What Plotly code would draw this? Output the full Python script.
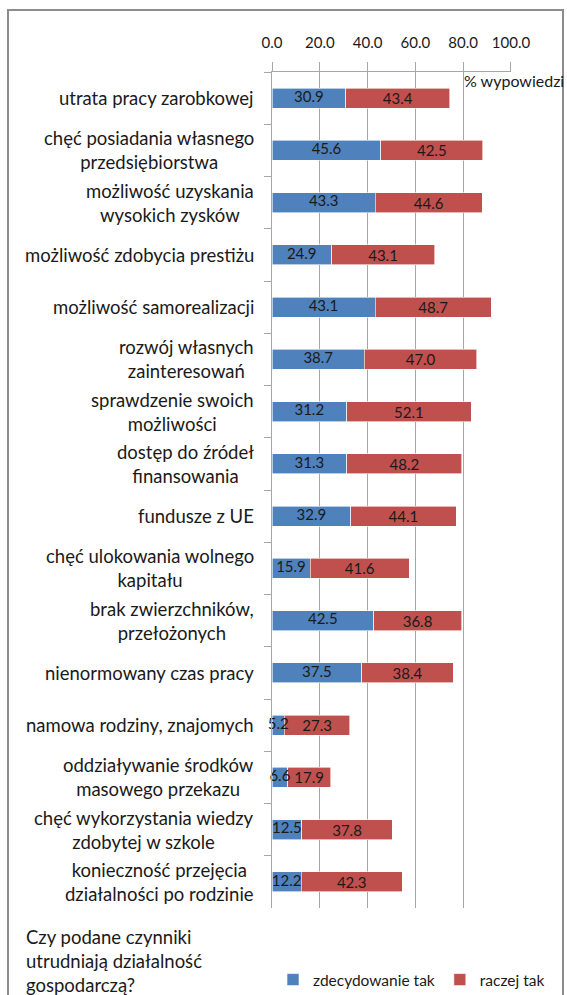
import plotly.graph_objects as go

categories = [
    "utrata pracy zarobkowej",
    "chęć posiadania własnego<br>przedsiębiorstwa",
    "możliwość uzyskania<br>wysokich zysków",
    "możliwość zdobycia prestiżu",
    "możliwość samorealizacji",
    "rozwój własnych<br>zainteresowań",
    "sprawdzenie swoich<br>możliwości",
    "dostęp do źródeł<br>finansowania",
    "fundusze z UE",
    "chęć ulokowania wolnego<br>kapitału",
    "brak zwierzchników,<br>przełożonych",
    "nienormowany czas pracy",
    "namowa rodziny, znajomych",
    "oddziaływanie środków<br>masowego przekazu",
    "chęć wykorzystania wiedzy<br>zdobytej w szkole",
    "konieczność przejęcia<br>działalności po rodzinie",
]
zdecydowanie_tak = [30.9, 45.6, 43.3, 24.9, 43.1, 38.7, 31.2, 31.3, 32.9, 15.9, 42.5, 37.5, 5.2, 6.6, 12.5, 12.2]
raczej_tak = [43.4, 42.5, 44.6, 43.1, 48.7, 47.0, 52.1, 48.2, 44.1, 41.6, 36.8, 38.4, 27.3, 17.9, 37.8, 42.3]
tick_values = [0, 20, 40, 60, 80, 100]
series_names = ["zdecydowanie tak", "raczej tak"]
axis_title = "% wypowiedzi"
footer_text = "Czy podane czynniki<br>utrudniają działalność<br>gospodarczą?"

W, H = 567, 995
L, R, T, B = 272, 511, 72, 908
FONT = "Lato"
TXT = "#1a1a1a"
GRID = "#a6a6a6"

def px_x(p):
    return (p - L) / (R - L)

def px_y(p):
    return 1 - (p - T) / (B - T)

fig = go.Figure()
fig.add_trace(go.Bar(
    y=categories, x=zdecydowanie_tak, name=series_names[0], orientation="h",
    marker=dict(color="#4f81bd", line=dict(color="#ffffff", width=0.6)),
    hoverinfo="skip",
))
fig.add_trace(go.Bar(
    y=categories, x=raczej_tak, name=series_names[1], orientation="h",
    marker=dict(color="#c0504d", line=dict(color="#ffffff", width=0.6)),
    text=[f"{v:.1f}" for v in raczej_tak], textposition="inside",
    insidetextanchor="middle", textangle=0, constraintext="none",
    cliponaxis=False,
    textfont=dict(family=FONT, size=15, color=TXT),
    hoverinfo="skip",
))
# labels of the first series drawn on top so they can overlap the next segment
fig.add_trace(go.Scatter(
    y=categories, x=[v / 2 for v in zdecydowanie_tak], mode="text",
    text=[f"{v:.1f}" for v in zdecydowanie_tak], textposition="middle center",
    textfont=dict(family=FONT, size=15, color=TXT), cliponaxis=False,
    showlegend=False, hoverinfo="skip",
))

annotations = []
for c in categories:
    annotations.append(dict(
        x=0, xref="paper", y=c, yref="y", xanchor="right", yanchor="middle",
        xshift=-16, text=c, showarrow=False, align="center",
        font=dict(family=FONT, size=18.5, color=TXT),
    ))
annotations.append(dict(
    x=px_x(462), xref="paper", y=px_y(81), yref="paper", xanchor="left",
    yanchor="middle", text=axis_title, showarrow=False,
    font=dict(family=FONT, size=16, color=TXT),
))
annotations.append(dict(
    x=px_x(24), xref="paper", y=px_y(961), yref="paper", xanchor="left",
    yanchor="middle", text=footer_text, showarrow=False, align="left",
    font=dict(family=FONT, size=18.5, color=TXT),
))

fig.update_layout(
    width=W, height=H,
    margin=dict(l=L, r=W - R, t=T, b=H - B, autoexpand=False),
    paper_bgcolor="white", plot_bgcolor="white",
    barmode="stack", bargap=0.62,
    font=dict(family=FONT, color=TXT),
    showlegend=True,
    legend=dict(orientation="h", x=px_x(550), xanchor="right",
                y=px_y(980), yanchor="middle",
                traceorder="normal",
                font=dict(family=FONT, size=15.5, color=TXT),
                bgcolor="rgba(0,0,0,0)"),
    annotations=annotations,
    shapes=[dict(type="rect", xref="paper", yref="paper",
                 x0=px_x(8), x1=px_x(563), y0=px_y(1010), y1=px_y(10),
                 line=dict(color="#8c8c8c", width=2), layer="below")],
    xaxis=dict(side="top", range=[0, 100.01], tickvals=tick_values,
               tickformat=".1f", showgrid=True, gridcolor=GRID, gridwidth=1,
               showline=True, linecolor=GRID, linewidth=1,
               ticks="outside", ticklen=9, tickcolor=GRID, tickwidth=1,
               ticklabelstandoff=8, zeroline=False,
               tickfont=dict(family=FONT, size=15, color=TXT), fixedrange=True),
    yaxis=dict(range=[len(categories) - 0.5, -0.5], type="category",
               categoryorder="array", categoryarray=categories,
               showticklabels=False,
               showline=True, linecolor=GRID, linewidth=1,
               ticks="outside", ticklen=7, tickcolor=GRID, tickwidth=1,
               tickson="boundaries", showgrid=False, zeroline=False, fixedrange=True),
)

fig.write_html("out.html", config={"displayModeBar": False},
               post_script="document.body.style.margin='0';document.body.style.padding='0';")
